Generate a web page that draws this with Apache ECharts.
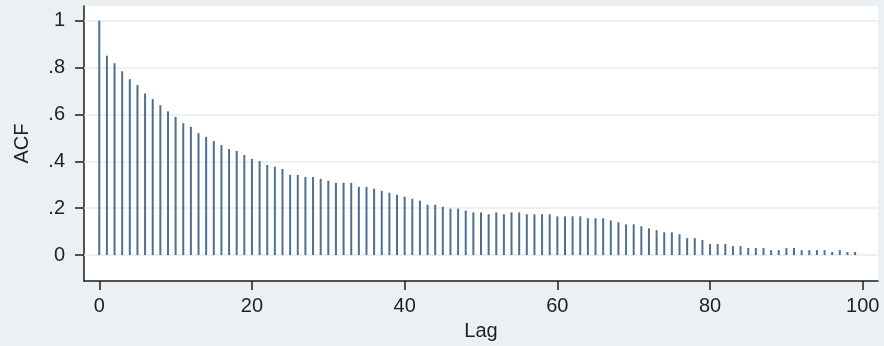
<!DOCTYPE html>
<html>
<head>
<meta charset="utf-8">
<script src="https://cdn.jsdelivr.net/npm/echarts@6/dist/echarts.min.js"></script>
<style>
html,body{margin:0;padding:0;background:#ebf0f5;}
#chart{width:884px;height:346px;}
</style>
</head>
<body>
<div id="chart"></div>
<script>
var acf = [
  1.000, 0.850, 0.818, 0.784, 0.750, 0.725, 0.689, 0.665, 0.639, 0.613,
  0.589, 0.562, 0.547, 0.520, 0.504, 0.486, 0.469, 0.452, 0.444, 0.427,
  0.410, 0.401, 0.384, 0.377, 0.367, 0.342, 0.342, 0.333, 0.333, 0.325,
  0.317, 0.308, 0.308, 0.308, 0.291, 0.291, 0.283, 0.274, 0.266, 0.257,
  0.249, 0.240, 0.232, 0.215, 0.215, 0.206, 0.198, 0.198, 0.190, 0.182,
  0.182, 0.174, 0.182, 0.174, 0.182, 0.182, 0.174, 0.174, 0.174, 0.174,
  0.165, 0.165, 0.165, 0.165, 0.157, 0.157, 0.157, 0.148, 0.140, 0.131,
  0.131, 0.123, 0.114, 0.106, 0.097, 0.097, 0.089, 0.072, 0.072, 0.064,
  0.047, 0.047, 0.047, 0.038, 0.038, 0.030, 0.030, 0.030, 0.021, 0.021,
  0.030, 0.030, 0.021, 0.021, 0.021, 0.021, 0.013, 0.021, 0.013, 0.013
];
var lags = acf.map(function (_, i) { return i; });
var xTicks = [0, 20, 40, 60, 80, 100];
var yTicks = [0, 0.2, 0.4, 0.6, 0.8, 1];

var chart = echarts.init(document.getElementById('chart'), null, {renderer: 'canvas'});
var font = 'Liberation Sans, Arial, sans-serif';
var axisColor = '#1e1e1e';
var textColor = '#1f1f1f';
var fs = 20;

function fmtY(v) {
  var r = Math.round(v * 10) / 10;
  if (r === 0) return '0';
  if (r === 1) return '1';
  return String(r).replace(/^0\./, '.');
}

chart.setOption({
  backgroundColor: '#ebf0f5',
  animation: false,
  grid: {
    left: 84, right: 6, top: 6, bottom: 63,
    show: true, backgroundColor: '#ffffff', borderWidth: 0
  },
  xAxis: {
    type: 'value',
    min: -2, max: 102,
    name: 'Lag', nameLocation: 'middle', nameGap: 37,
    nameTextStyle: {fontFamily: font, fontSize: fs, color: textColor},
    axisLine: {show: true, onZero: false, lineStyle: {color: axisColor, width: 1.5}},
    axisTick: {show: true, length: 9, customValues: xTicks, lineStyle: {color: axisColor, width: 1.5}},
    axisLabel: {customValues: xTicks, margin: 15, fontFamily: font, fontSize: fs, color: textColor},
    splitLine: {show: false}
  },
  yAxis: {
    type: 'value',
    min: -0.111, max: 1.062,
    name: 'ACF', nameLocation: 'middle', nameGap: 52, nameRotate: 90,
    nameTextStyle: {fontFamily: font, fontSize: fs, color: textColor},
    axisLine: {show: true, onZero: false, lineStyle: {color: axisColor, width: 1.5}},
    axisTick: {show: true, length: 9, customValues: yTicks, lineStyle: {color: axisColor, width: 1.5}},
    axisLabel: {customValues: yTicks, margin: 19, fontFamily: font, fontSize: fs, color: textColor,
      formatter: fmtY},
    splitLine: {show: false}
  },
  series: [{
    type: 'bar',
    data: lags.map(function (l, i) { return [l, acf[i]]; }),
    barWidth: 2,
    itemStyle: {color: '#4e7090'},
    silent: true,
    z: 3,
    markLine: {
      silent: true,
      symbol: 'none',
      label: {show: false},
      lineStyle: {color: '#e6edf3', width: 1.5, type: 'solid'},
      z: 1,
      data: yTicks.map(function (v) { return {yAxis: v}; })
    }
  }]
});
</script>
</body>
</html>
